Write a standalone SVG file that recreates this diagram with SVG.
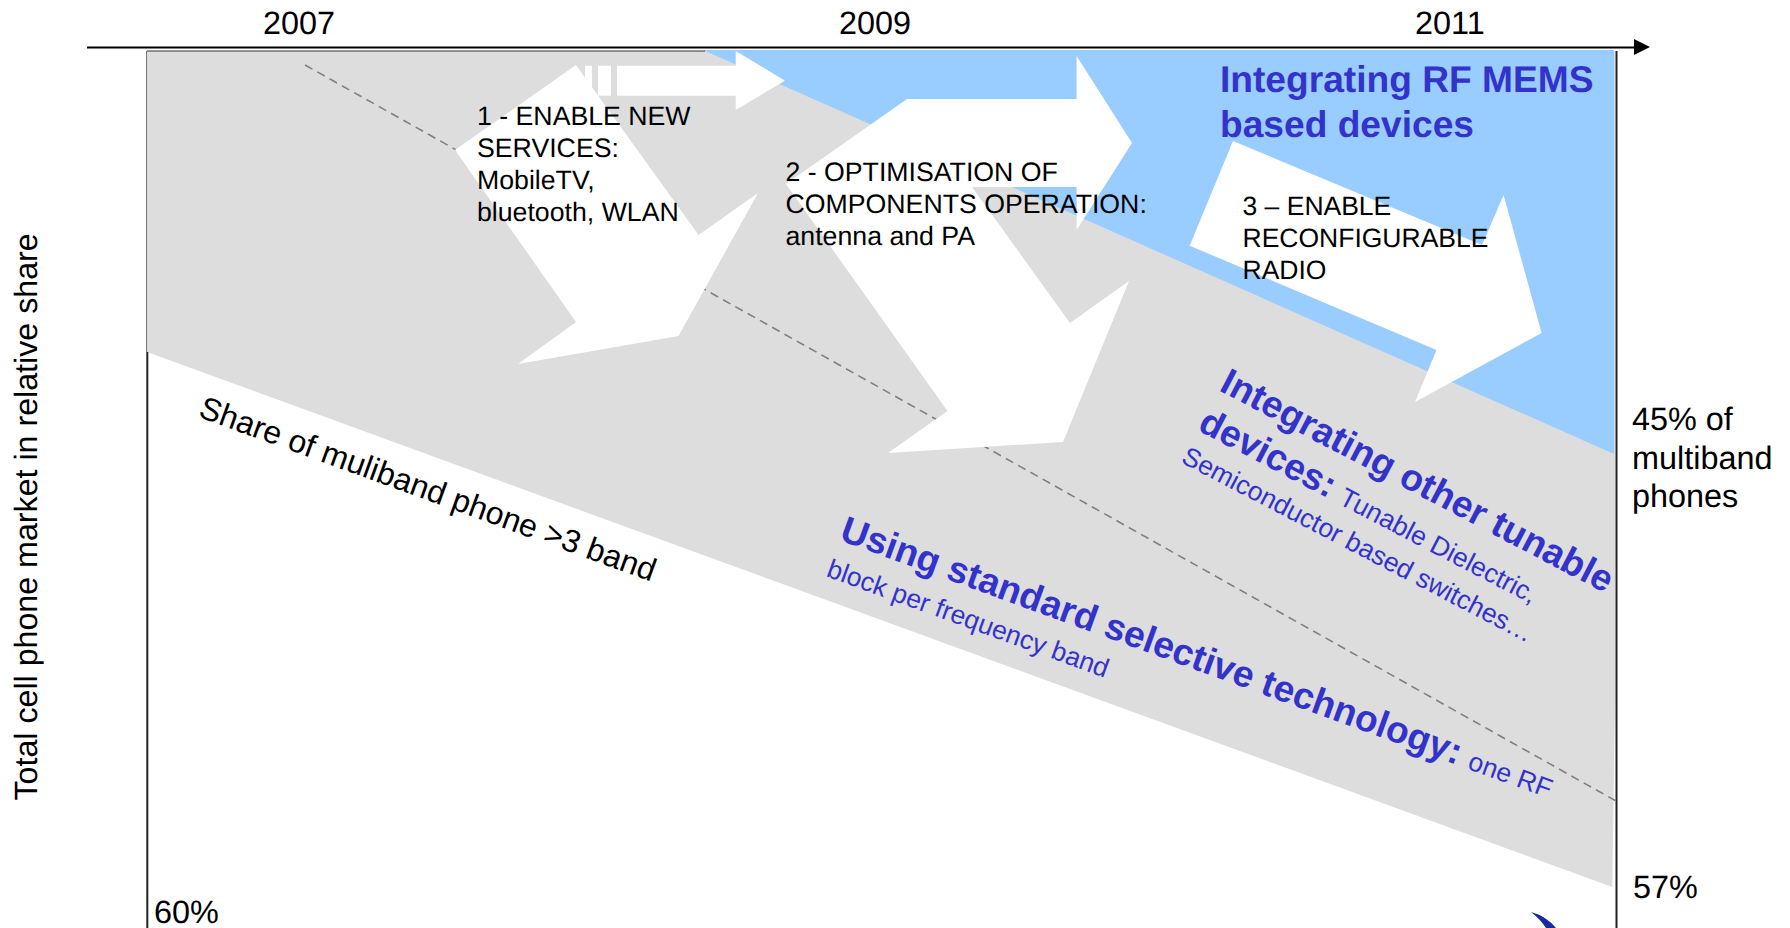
<svg xmlns="http://www.w3.org/2000/svg" width="1790" height="928" viewBox="0 0 1790 928">
<style>
text{font-family:"Liberation Sans",Arial,sans-serif;fill:#000;text-rendering:geometricPrecision}
.yr{font-size:32.4px}
.b{font-size:26.7px}
.bl{fill:#3333cc}
.h{font-size:37.15px;font-weight:bold}
.s{font-size:26.5px;font-weight:normal}
.ar{fill:#fff}
</style>
<rect width="1790" height="928" fill="#fff"/>
<g id="bands">
<polygon id="band-grey" points="147,51 1615,51 1615,700 1612.3,887 147,352" fill="#dddddd"/>
<polygon id="band-blue" points="703,50 1614,50 1614,454" fill="#99ccff"/>
</g>
<g id="frame">
<path d="M147 51H705" stroke="#333" stroke-width="1" fill="none"/>
<path d="M146.5 51V352" stroke="#777" stroke-width="1" fill="none"/>
<path d="M147.3 352V928" stroke="#222" stroke-width="2" fill="none"/>
<path d="M1616.5 51V928" stroke="#222" stroke-width="2" fill="none"/>
</g>
<g id="connectors">
<path id="boundary" d="M305 65L1616 801" stroke="#808080" stroke-width="1.6" stroke-dasharray="8.5 5.6" fill="none"/>
<path id="time-axis" d="M87 47.5H1636" stroke="#000" stroke-width="2" fill="none"/>
<polygon id="time-axis-head" points="1634,39 1650,47 1634,55" fill="#000"/>
</g>
<g id="arrow-1">
<rect class="ar" x="585" y="65.7" width="7" height="30"/>
<rect class="ar" x="598" y="65.7" width="13" height="30"/>
<polygon class="ar" points="617,65.7 735.7,65.7 735.7,51 785,80.7 735.7,110 735.7,95.7 617,95.7"/>
<polygon class="ar" points="576,65 698.6,235 758,193 678.5,336 518,364 576,322 455,150"/>
</g>
<g id="arrow-2">
<polygon class="ar" points="786,184 907,99 1076.6,99 1076.6,56 1132,143 1076.6,230 1076.6,187 972,187 1070,323 1129,281 1063,442 888,453 947.5,411"/>
</g>
<g id="arrow-3">
<polygon class="ar" points="1233,141 1482,245 1503.6,195 1541.6,333 1415,402 1436.5,350 1189.7,245.7"/>
</g>
<g id="years">
<text class="yr" x="263" y="34">2007</text>
<text class="yr" x="839" y="34">2009</text>
<text class="yr" x="1415" y="34">2011</text>
</g>
<g id="label-1">
<text class="b" x="477" y="125">1 - ENABLE NEW</text>
<text class="b" x="477" y="157">SERVICES:</text>
<text class="b" x="477" y="189">MobileTV,</text>
<text class="b" x="477" y="221">bluetooth, WLAN</text>
</g>
<g id="label-2">
<text class="b" x="785.5" y="181">2 - OPTIMISATION OF</text>
<text class="b" x="785.5" y="213">COMPONENTS OPERATION:</text>
<text class="b" x="785.5" y="245">antenna and PA</text>
</g>
<g id="label-3">
<text class="s" x="1242.5" y="215">3 – ENABLE</text>
<text class="s" x="1242.5" y="247">RECONFIGURABLE</text>
<text class="s" x="1242.5" y="279">RADIO</text>
</g>
<g id="label-mems">
<text class="h bl" x="1220" y="92">Integrating RF MEMS</text>
<text class="h bl" x="1220" y="137">based devices</text>
</g>
<g id="label-tunable">
<text class="h bl" transform="translate(1218 390) rotate(27.7)">Integrating other tunable</text>
<text class="h bl" transform="translate(1196.5 429.8) rotate(27.5)">devices: <tspan class="s bl">Tunable Dielectric,</tspan></text>
<text class="s bl" transform="translate(1180 462) rotate(27.5)">Semiconductor based switches…</text>
</g>
<g id="label-standard">
<text class="h bl" transform="translate(838.2 539.7) rotate(20)">Using standard selective technology: <tspan class="s bl">one RF</tspan></text>
<text class="s bl" transform="translate(825.3 576) rotate(20)">block per frequency band</text>
</g>
<g id="label-share">
<text style="font-size:32px" transform="translate(197.3 416.5) rotate(20)">Share of muliband phone &gt;3 band</text>
</g>
<g id="label-axis">
<text style="font-size:32.2px" transform="translate(36.5 800.5) rotate(-90)">Total cell phone market in relative share</text>
</g>
<g id="values">
<text class="yr" x="1632" y="430">45% of</text>
<text class="yr" x="1632" y="468.5">multiband</text>
<text class="yr" x="1632" y="507">phones</text>
<text class="yr" x="1633" y="898">57%</text>
<text class="yr" x="154" y="922.5">60%</text>
</g>
<path id="logo" d="M1531 912Q1546 916 1556 928H1546Q1541 920 1531 912Z" fill="#1a2a9a"/>
</svg>
